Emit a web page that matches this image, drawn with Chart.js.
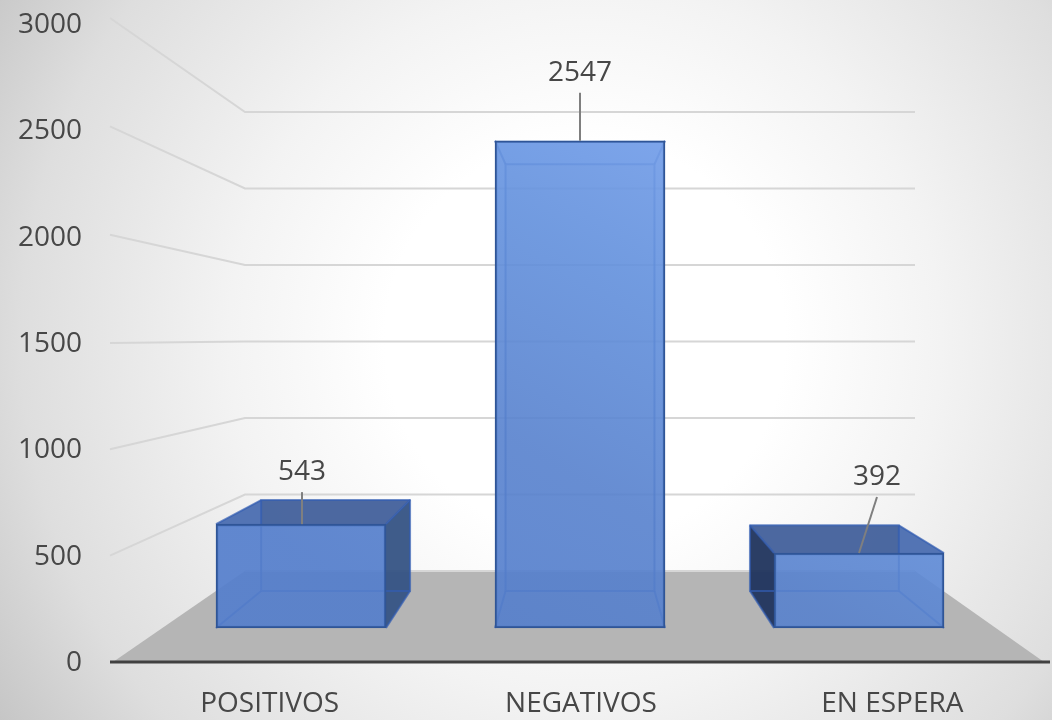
<!DOCTYPE html>
<html><head><meta charset="utf-8">
<style>html,body{margin:0;padding:0;background:#fff;overflow:hidden}canvas{display:block}</style>
<script src="https://cdn.jsdelivr.net/npm/chart.js@4/dist/chart.umd.min.js"></script>
</head><body><canvas id="c" width="1052" height="720"></canvas>
<script>
const categories = ['POSITIVOS','NEGATIVOS','EN ESPERA'];
const values = [543, 2547, 392];
const tickStep = 500;
const axisMax = 3000;

// perspective look of the box (style only)
const VX = 580, VY = 330, DEPTH = 0.876;
const WALL_L = 245, WALL_R = 915, AXIS_L = 110, AXIS_R = 1050;
const AREA_TOP = 24, AREA_BOTTOM = 662;
const FONT = '"Open Sans", sans-serif';
const TEXT = '#474747';
const labelShift = [[1,-52],[0,-68],[18,-76]];
const back = (x,y)=>[VX+(x-VX)*DEPTH, VY+(y-VY)*DEPTH];

function poly(ctx, pts, fill, stroke, lw){
  ctx.beginPath();
  pts.forEach((p,i)=> i?ctx.lineTo(p[0],p[1]):ctx.moveTo(p[0],p[1]));
  ctx.closePath();
  if(fill){ctx.fillStyle=fill;ctx.fill();}
  if(stroke){ctx.strokeStyle=stroke;ctx.lineWidth=lw||2;ctx.lineJoin='round';ctx.stroke();}
}

const scene = {
  id:'scene',
  afterLayout(chart){
    chart.chartArea.top = AREA_TOP; chart.chartArea.bottom = AREA_BOTTOM;
    chart.chartArea.height = AREA_BOTTOM-AREA_TOP;
    ['y','yf','yb'].forEach(id=>{
      const s = chart.scales[id];
      s.top = AREA_TOP; s.bottom = AREA_BOTTOM; s.height = AREA_BOTTOM-AREA_TOP;
      s.configure();
    });
    const x = chart.scales.x;
    x.top = AREA_BOTTOM; x.bottom = AREA_BOTTOM+58;
  },
  beforeDraw(chart){
    const {ctx,width,height,scales} = chart;
    ctx.save();
    const g = ctx.createRadialGradient(585,340,200,585,340,720);
    g.addColorStop(0,'#ffffff');
    g.addColorStop(0.3,'#f3f3f3');
    g.addColorStop(0.7,'#dedede');
    g.addColorStop(1,'#c2c2c2');
    ctx.fillStyle=g;ctx.fillRect(0,0,width,height);
    const y0 = scales.y.getPixelForValue(0), b0 = scales.yb.getPixelForValue(0);
    poly(ctx,[[WALL_L,b0],[WALL_R,b0],[AXIS_R-6,y0],[AXIS_L+3,y0]],'#b5b5b5');
    ctx.strokeStyle='#d6d6d6';ctx.lineWidth=2;
    ctx.beginPath();
    scales.y.ticks.forEach(t=>{
      if(t.value===0){ctx.moveTo(WALL_L,b0);ctx.lineTo(WALL_R,b0);return;}
      const a = scales.y.getPixelForValue(t.value), b = scales.yb.getPixelForValue(t.value);
      ctx.moveTo(AXIS_L,a-(t.value>=2000?(t.value-1500)/1500*6:0));ctx.lineTo(WALL_L,b);ctx.lineTo(WALL_R,b);
    });
    ctx.stroke();
    ctx.restore();
  },
  beforeDatasetsDraw(chart){
    const {ctx} = chart;
    const edge='rgba(50,92,178,.7)';
    ctx.save();
    chart.getDatasetMeta(0).data.forEach(bar=>{
      const l=bar.x-bar.width/2,r=bar.x+bar.width/2,t=bar.y,b=bar.base;
      const tl=back(l,t),tr=back(r,t),bl=back(l,b),br=back(r,b);
      const above = t<VY;
      poly(ctx,[tl,tr,br,bl],'rgba(68,114,196,.35)');
      poly(ctx,[[l,b],[r,b],br,bl],'rgba(68,114,196,.25)');
      poly(ctx,[[l,t],[r,t],tr,tl],above?'rgba(120,165,240,.5)':'rgba(66,96,154,.92)');
      const lOut = l>VX, rOut = r<VX;
      poly(ctx,[[l,t],tl,bl,[l,b]],lOut?'rgba(30,50,90,.92)':'rgba(90,135,215,.35)');
      poly(ctx,[[r,t],tr,br,[r,b]],rOut?'rgba(52,82,130,.92)':'rgba(90,135,215,.35)');
      [[[l,t],tl],[[r,t],tr],[[l,b],bl],[[r,b],br]].forEach(s=>{
        ctx.beginPath();ctx.moveTo(s[0][0],s[0][1]);ctx.lineTo(s[1][0],s[1][1]);
        ctx.strokeStyle=edge;ctx.lineWidth=2;ctx.stroke();
      });
      poly(ctx,[tl,tr,br,bl],null,edge,2);
    });
    ctx.restore();
  },
  afterDatasetsDraw(chart){
    const {ctx,scales} = chart;
    ctx.save();
    const y0 = scales.y.getPixelForValue(0);
    ctx.strokeStyle='#404040';ctx.lineWidth=3;
    ctx.beginPath();ctx.moveTo(AXIS_L,y0);ctx.lineTo(AXIS_R,y0);ctx.stroke();
    ctx.font='28px '+FONT;ctx.textAlign='center';ctx.textBaseline='middle';
    chart.getDatasetMeta(0).data.forEach((bar,i)=>{
      const [dx,dy]=labelShift[i];
      const lx=bar.x+dx, ly=bar.y+dy;
      ctx.strokeStyle='#7f7f7f';ctx.lineWidth=2;
      ctx.beginPath();ctx.moveTo(lx,ly+20);ctx.lineTo(bar.x+(dx===1?1:0),bar.y);ctx.stroke();
      ctx.fillStyle=TEXT;
      ctx.fillText(String(values[i]),lx,ly);
    });
    ctx.restore();
  }
};

function frontFill(c){
  const a=c.chart.chartArea; if(!a) return '#5b84cc';
  const g=c.chart.ctx.createLinearGradient(440,628,720,130);
  g.addColorStop(0,'rgba(84,126,204,.88)');
  g.addColorStop(0.35,'rgba(88,130,206,.85)');
  g.addColorStop(0.7,'rgba(100,146,222,.85)');
  g.addColorStop(1,'rgba(122,163,236,.9)');
  return g;
}

new Chart(document.getElementById('c'),{
  type:'bar',
  data:{
    labels:categories,
    datasets:[{
      data:values.map((v,i)=>({x:i,y:v})),
      xAxisID:'xf',yAxisID:'yf',
      barThickness:170,
      backgroundColor:frontFill,
      borderColor:'#2f5597',
      borderWidth:2,
      borderSkipped:false
    }]
  },
  plugins:[scene],
  options:{
    responsive:false,animation:false,
    layout:{padding:{top:2,right:4,left:0,bottom:0}},
    plugins:{legend:{display:false},tooltip:{enabled:false},title:{display:false}},
    scales:{
      x:{type:'category',labels:categories,offset:true,position:'bottom',
        grid:{display:false},border:{display:false},
        ticks:{color:TEXT,font:{family:FONT,size:28},padding:17,autoSkip:false,maxRotation:0},
        afterFit(s){s.height=58;}},
      y:{type:'linear',min:0,max:axisMax,position:'left',
        grid:{display:false,drawTicks:false},border:{display:false},
        ticks:{stepSize:tickStep,color:TEXT,font:{family:FONT,size:28},padding:32,labelOffset:1,callback:v=>String(v)},
        afterFit(s){s.width=114;}},
      xf:{type:'linear',display:false,axis:'x',offset:false,min:-0.6703,max:2.6774,grid:{display:false}},
      yf:{type:'linear',display:false,axis:'y',min:-177.7,max:3157.3,grid:{display:false}},
      yb:{type:'linear',display:false,axis:'y',min:-594.8,max:3575,grid:{display:false}}
    }
  }
});
</script></body></html>
